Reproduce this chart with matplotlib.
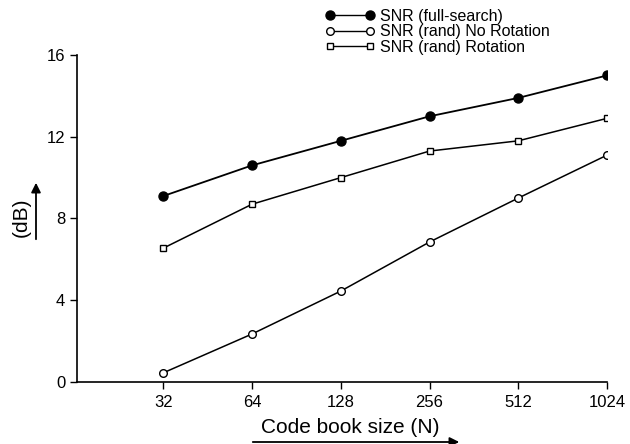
import matplotlib
matplotlib.use('Agg')
import matplotlib.pyplot as plt
from matplotlib.lines import Line2D

plt.rcParams['font.family'] = ['Liberation Sans', 'DejaVu Sans']

codebook = [32, 64, 128, 256, 512, 1024]
snr_full = [9.1, 10.6, 11.8, 13.0, 13.9, 15.0]
snr_norot = [0.45, 2.35, 4.45, 6.85, 9.0, 11.1]
snr_rot = [6.55, 8.7, 10.0, 11.3, 11.8, 12.9]
yticks = [0, 4, 8, 12, 16]
labels = ['SNR (full-search)', 'SNR (rand) No Rotation', 'SNR (rand) Rotation']

fig = plt.figure(figsize=(6.3, 4.44), dpi=100)
ax = fig.add_axes([77/630, 1 - 382/444, (607 - 77)/630, (382 - 55)/444])

ax.plot(codebook, snr_full, color='black', lw=1.3, marker='o', ms=6.5,
        mfc='black', mec='black')
ax.plot(codebook, snr_norot, color='black', lw=1.1, marker='o', ms=5.5,
        mfc='white', mec='black', mew=1.0)
ax.plot(codebook, snr_rot, color='black', lw=1.1, marker='s', ms=5,
        mfc='white', mec='black', mew=1.0)

ax.set_xscale('log', base=2)
ax.set_xlim(16.3, 1024)
ax.set_ylim(0, 16)
ax.set_xticks(codebook)
ax.set_xticklabels([str(c) for c in codebook])
ax.minorticks_off()
ax.set_yticks(yticks)
ax.tick_params(direction='out', length=5, width=1, labelsize=12, colors='black')
ax.tick_params(axis='x', pad=4)
ax.spines['top'].set_visible(False)
ax.spines['right'].set_visible(False)
for s in ['left', 'bottom']:
    ax.spines[s].set_linewidth(1.2)

# axis labels with arrows
fig.text(350/630, 1 - 427/444, 'Code book size (N)', fontsize=15,
         ha='center', va='center')
fig.add_artist(matplotlib.patches.FancyArrowPatch(
    (250/630, 1 - 442/444), (462/630, 1 - 442/444),
    transform=fig.transFigure, arrowstyle='-|>', mutation_scale=14,
    color='black', lw=1.3))
fig.text(21/630, 1 - 217/444, '(dB)', fontsize=15, rotation=90,
         ha='center', va='center')
fig.add_artist(matplotlib.patches.FancyArrowPatch(
    (36/630, 1 - 242/444), (36/630, 1 - 180/444),
    transform=fig.transFigure, arrowstyle='-|>', mutation_scale=14,
    color='black', lw=1.3))

handles = [
    Line2D([], [], color='black', lw=1.0, marker='o', ms=6.5, mfc='black', mec='black'),
    Line2D([], [], color='black', lw=1.0, marker='o', ms=5.5, mfc='white', mec='black'),
    Line2D([], [], color='black', lw=1.0, marker='s', ms=4.5, mfc='white', mec='black'),
]
fig.legend(handles, labels, loc='upper left', bbox_to_anchor=(325/630, 1 - 9/444),
           frameon=False, numpoints=2, fontsize=11.5, handlelength=3.1,
           handletextpad=0.35, labelspacing=0.02, borderpad=0, borderaxespad=0)

fig.savefig('out.png', dpi=100)
